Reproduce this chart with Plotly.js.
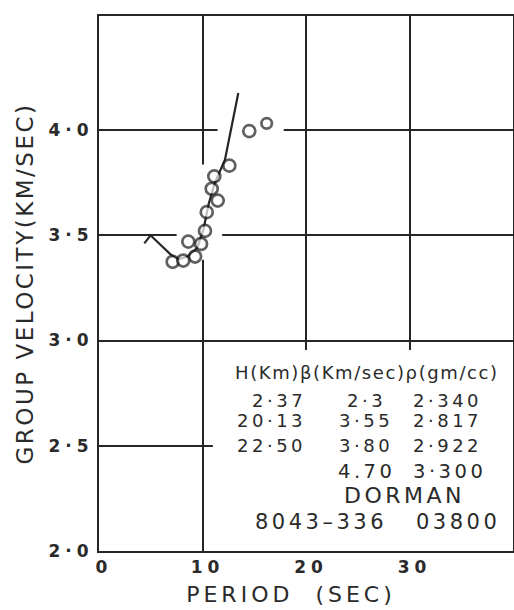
<!DOCTYPE html>
<html><head><meta charset="utf-8">
<script src="https://cdn.plot.ly/plotly-3.0.1.min.js"></script>
<style>
html,body{margin:0;padding:0;background:#fff;}
#chart{width:514px;height:610px;}
.annotation-text{letter-spacing:3.5px;}
.annotation[data-index="0"] .annotation-text{letter-spacing:1.6px;}
.ytick text{letter-spacing:5px;}
.xtick text{letter-spacing:5px;}
.g-ytitle text{letter-spacing:2.5px;}
.g-xtitle text{letter-spacing:4px;transform:translateX(-15px);}
</style></head><body><div id="chart"></div>
<script>
// Observed group velocities (circles)
const periodObs = [7.12, 8.14, 9.28, 8.63, 9.86, 10.24, 10.41, 11.47, 10.89, 11.14, 12.59, 14.52, 16.2];
const velocityObs = [3.374, 3.380, 3.399, 3.470, 3.459, 3.521, 3.610, 3.665, 3.721, 3.780, 3.831, 3.995, 4.032];
// Theoretical dispersion curve (solid line)
const periodCurve = [4.38, 4.98, 6.86, 7.6, 8.6, 9.5, 10.1, 10.6, 11.2, 12.17, 13.46];
const velocityCurve = [3.462, 3.500, 3.412, 3.385, 3.40, 3.44, 3.53, 3.65, 3.75, 3.859, 4.176];
// Axis ticks
const xTickVals = [0, 10, 20, 30];
const xTickText = ['0', '10', '20', '30'];
const yTickVals = [2, 2.5, 3, 3.5, 4];
const yTickText = ['2·0', '2·5', '3·0', '3·5', '4·0'];
// Crustal model table
const tableHeader = 'H(Km)β(Km/sec)ρ(gm/cc)';
const thicknessH = ['2·37', '20·13', '22·50'];
const shearVelocity = ['2·3', '3·55', '3·80', '4.70'];
const density = ['2·340', '2·817', '2·922', '3·300'];
const modelName = 'DORMAN';
const modelCode = ['8043–336', '03800'];

const ink = '#262626';
const textInk = '#2a2a2a';

// text placement (data coordinates) and sizes
const rowY = [2.716, 2.618, 2.502, 2.376];
const rowSize = [18, 18, 18, 19.5];
const anns = [];
anns.push({x:12.95, y:2.850, text:tableHeader, xanchor:'left', align:'left', size:18});
thicknessH.forEach((t,i)=>anns.push({x:20.2, y:rowY[i], text:t, xanchor:'right', align:'right', size:rowSize[i]}));
shearVelocity.forEach((t,i)=>anns.push({x:25.8, y:rowY[i], text:t, xanchor:'center', align:'center', size:rowSize[i]}));
density.forEach((t,i)=>anns.push({x:30.1, y:rowY[i], text:t, xanchor:'left', align:'left', size:rowSize[i]}));
anns.push({x:29.5, y:2.265, text:modelName, xanchor:'center', align:'center', size:22});
anns.push({x:21.45, y:2.138, text:modelCode[0], xanchor:'center', align:'center', size:21});
anns.push({x:34.7, y:2.138, text:modelCode[1], xanchor:'center', align:'center', size:21});
anns.forEach(a=>{a.xref='x'; a.yref='y'; a.yanchor='middle'; a.showarrow=false;
  a.font={family:'DejaVu Sans', size:a.size, color:textInk}; delete a.size;});

const mask = (x0,x1,y0,y1)=>({type:'rect', layer:'between', xref:'x', yref:'y',
  x0:x0, x1:x1, y0:y0, y1:y1, fillcolor:'#ffffff', line:{width:0}});

const traces = [
  {x:periodCurve, y:velocityCurve, type:'scatter', mode:'lines',
   line:{color:ink, width:2.2}, hoverinfo:'skip'},
  {x:periodObs, y:velocityObs, type:'scatter', mode:'markers',
   marker:{symbol:'circle', size:[12,12,12,12,12,12,12,12,12,12,12,12,10.5],
     color:'#ffffff', line:{color:'#1e1e1e', width:2.7}}, hoverinfo:'skip'}
];

const axisCommon = {showgrid:true, gridcolor:ink, gridwidth:2, showline:true,
  linecolor:ink, linewidth:2, mirror:true, zeroline:false, ticks:'',
  automargin:false, fixedrange:true, tickmode:'array'};

const layout = {
  width:514, height:610,
  margin:{l:99, r:1, t:16, b:59, pad:0},
  paper_bgcolor:'#ffffff', plot_bgcolor:'#ffffff',
  showlegend:false,
  font:{family:'DejaVu Sans', color:textInk},
  xaxis:Object.assign({}, axisCommon, {range:[0,40], tickvals:xTickVals, ticktext:xTickText,
    ticklabelshift:5,
    tickfont:{size:17, weight:'bold', color:textInk},
    title:{text:'PERIOD  (SEC)', font:{size:22, color:textInk}, standoff:10}}),
  yaxis:Object.assign({}, axisCommon, {range:[2,4.542], tickvals:yTickVals, ticktext:yTickText,
    tickfont:{size:17, weight:'bold', color:textInk},
    title:{text:'GROUP VELOCITY(KM/SEC)', font:{size:23, color:textInk}, standoff:8}}),
  shapes:[
    mask(9.5,10.5,3.384,3.837),
    mask(11.45,17.85,3.95,4.05),
    mask(7.5,11.9,3.45,3.55),
    mask(11,41,1.9,2.955)
  ],
  annotations:anns
};

Plotly.newPlot('chart', traces, layout, {staticPlot:true, displayModeBar:false});
</script></body></html>
